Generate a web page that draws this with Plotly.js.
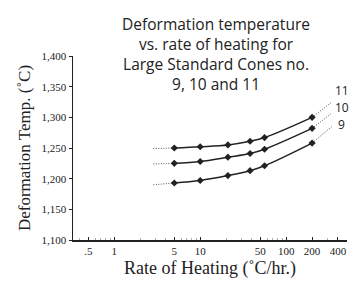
<!DOCTYPE html>
<html>
<head>
<meta charset="utf-8">
<script src="https://cdn.plot.ly/plotly-3.0.1.min.js"></script>
<style>html,body{margin:0;padding:0;background:#fff}#chart{width:350px;height:283px}</style>
</head>
<body>
<div id="chart"></div>
<script>
// Heating rates (°C/hr) at measured points
const rates = [5, 10, 21, 38, 56, 200];
// Deformation temperatures (°C) per cone
const cone9  = [1193, 1197, 1205, 1213, 1221, 1258];
const cone10 = [1225, 1228, 1235, 1241, 1248, 1282];
const cone11 = [1250, 1252, 1255, 1261, 1267, 1300];
// Dotted extrapolations (left: to slower rates, right: to faster rates)
const extLeftRates = [2.85, 5];
const extLeft9  = [1190, 1193];
const extLeft10 = [1224, 1225];
const extLeft11 = [1249, 1250];
const extRightRates = [200, 340];
const extRight9  = [1258, 1285];
const extRight10 = [1282, 1307];
const extRight11 = [1300, 1325];
const coneNames = ['9', '10', '11'];
const xTickVals = [0.5, 1, 5, 10, 50, 100, 200, 400];
const xTickText = ['.5', '1', '5', '10', '50', '100', '200', '400'];
const yTickVals = [1100, 1150, 1200, 1250, 1300, 1350, 1400];

const ink = '#222';
const serif = 'Liberation Serif, DejaVu Serif, serif';
const sans = 'Open Sans, Noto Sans, sans-serif';

const main = [cone9, cone10, cone11];
const extL = [extLeft9, extLeft10, extLeft11];
const extR = [extRight9, extRight10, extRight11];
const dotLine = {color: '#555', width: 1, dash: '1px,1.5px'};
const traces = [];
for (let i = 0; i < 3; i++) {
  traces.push({x: extLeftRates, y: extL[i], mode: 'lines', line: dotLine, hoverinfo: 'skip'});
  traces.push({x: extRightRates, y: extR[i], mode: 'lines', line: dotLine, hoverinfo: 'skip'});
  traces.push({x: rates, y: main[i], name: 'Cone ' + coneNames[i], mode: 'lines+markers',
    line: {color: ink, width: 1.5, shape: 'spline', smoothing: 1},
    marker: {symbol: 'diamond', size: 5.5, color: ink}});
}

const labelRate = 440;
const labelY = [1289, 1315.5, 1343];
const annotations = coneNames.map((n, i) => ({
  x: Math.log10(labelRate), y: labelY[i], xref: 'x', yref: 'y', text: n, showarrow: false,
  xanchor: 'center', yanchor: 'middle', font: {family: sans, size: 12, color: ink}
}));

const layout = {
  width: 350, height: 283,
  margin: {l: 73, r: 3, t: 56, b: 43},
  paper_bgcolor: '#fff', plot_bgcolor: '#fff',
  showlegend: false,
  title: {
    text: 'Deformation temperature<br>vs. rate of heating for<br>Large Standard Cones no.<br>9, 10 and 11',
    font: {family: sans, size: 15.5, color: ink},
    x: 0.522, xref: 'paper', xanchor: 'center',
    y: 0.895, yref: 'container', yanchor: 'top'
  },
  xaxis: {
    type: 'log', range: [-0.479, 2.707],
    tickvals: xTickVals, ticktext: xTickText,
    ticks: 'inside', ticklen: 3, tickcolor: ink, tickwidth: 1,
    minor: {ticks: 'inside', ticklen: 2, tickcolor: '#777', tickwidth: 0.6, dtick: 'D1', showgrid: false},
    showline: true, linecolor: ink, linewidth: 1.5,
    showgrid: false, zeroline: false,
    tickfont: {family: serif, size: 11, color: ink},
    title: {text: 'Rate of Heating (˚C/hr.)', font: {family: serif, size: 18, color: ink}, standoff: 5}
  },
  yaxis: {
    range: [1100, 1400],
    tickvals: yTickVals, tickformat: ',',
    ticks: 'outside', ticklen: 3, tickcolor: ink, tickwidth: 1,
    showline: true, linecolor: ink, linewidth: 1.5,
    showgrid: false, zeroline: false,
    tickfont: {family: serif, size: 11, color: ink},
    title: {text: 'Deformation Temp. (˚C)', font: {family: serif, size: 17, color: ink}, standoff: 6}
  },
  annotations: annotations
};

Plotly.newPlot('chart', traces, layout, {staticPlot: true, displayModeBar: false});
</script>
</body>
</html>
